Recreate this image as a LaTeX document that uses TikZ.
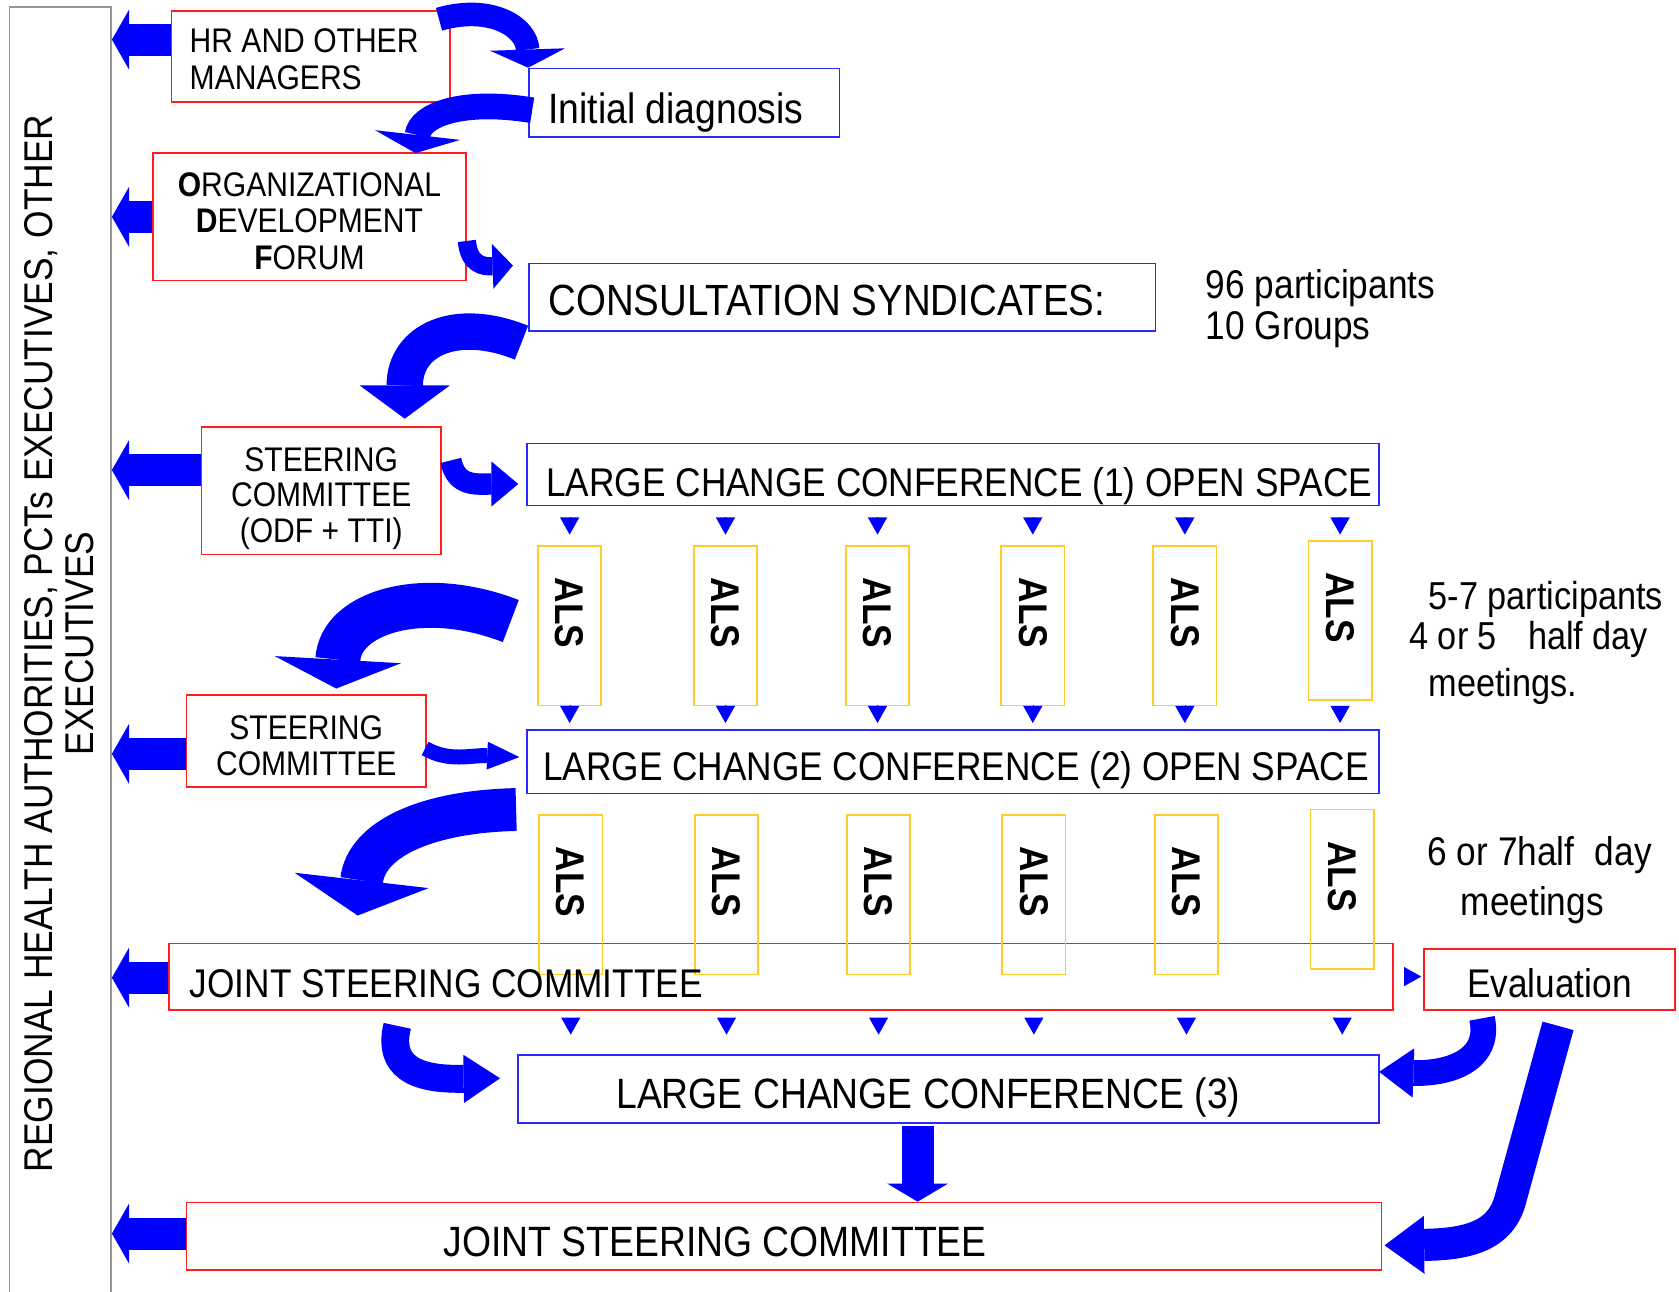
\documentclass[tikz,border=0pt]{standalone}
\usepackage{fontspec}
\setmainfont{Liberation Sans}[FakeStretch=0.88]
\usetikzlibrary{arrows.meta}
\definecolor{boxred}{RGB}{255,30,30}
\definecolor{boxblue}{RGB}{40,40,255}
\definecolor{alsyellow}{RGB}{255,204,40}
\definecolor{arrowblue}{RGB}{0,0,255}
\definecolor{sidegray}{RGB}{150,150,150}
\newcommand{\mysmall}{\fontsize{31.9}{34}\selectfont}
\newcommand{\mymed}{\fontsize{37.4}{38}\selectfont}
\newcommand{\mynote}{\fontsize{36.4}{38}\selectfont}
\newcommand{\mylarge}{\fontsize{39.6}{42}\selectfont}
\newcommand{\mycons}{\fontsize{40.8}{42}\selectfont}
\newcommand{\myside}{\fontsize{37.5}{38}\selectfont}
\begin{document}
\begin{tikzpicture}[x=1pt,y=-1pt,
  rbox/.style={draw=boxred, line width=1.5pt, inner sep=0pt},
  bbox/.style={draw=boxblue, line width=1.5pt, inner sep=0pt},
  ybox/.style={draw=alsyellow, line width=1.5pt, inner sep=0pt, minimum width=59pt, minimum height=149pt},
  txt/.style={inner sep=0pt, text=black},
  alstxt/.style={inner sep=0pt, text=black, rotate=-90, font=\mymed\bfseries},
  sidearrow/.style={draw=arrowblue, line width=30pt, line cap=butt, -{Triangle[width=56pt,length=16pt,line width=0pt]}},
  tri/.style={draw=arrowblue, line width=0.3pt, -{Triangle[width=18pt,length=16pt,line width=0pt]}},
  carrow/.style n args={3}{draw=arrowblue, line width=#1, line cap=butt, -{Triangle[width=#2,length=#3,line width=0pt]}}
]
\useasboundingbox (0,0) rectangle (1568,1206);

% sidebar
\node[draw=sidegray, line width=1.5pt, minimum width=95pt, minimum height=1230pt, anchor=north west, inner sep=0pt] (side) at (8,6) {};
\node[txt, rotate=90, align=center, font=\myside] (sidetxt) at (55,601) {REGIONAL HEALTH AUTHORITIES, PCTs EXECUTIVES, OTHER\\EXECUTIVES};

% red boxes
\node[rbox, minimum width=260pt, minimum height=85pt] (hr) at (290,52.5) {};
\node[rbox, minimum width=292pt, minimum height=119pt] (odf) at (289,202.5) {};
\node[rbox, minimum width=224pt, minimum height=119pt] (sc1) at (300,458.5) {};
\node[rbox, minimum width=224pt, minimum height=86pt] (sc2) at (286,692) {};
\node[rbox, minimum width=1143pt, minimum height=62pt] (jsc1) at (729.5,912) {};
\node[rbox, minimum width=234pt, minimum height=57pt] (eval) at (1447,914.5) {};
\node[rbox, minimum width=1116pt, minimum height=63pt] (jsc2) at (732,1154.5) {};

% blue boxes
\node[bbox, minimum width=290pt, minimum height=64pt] (init) at (639,96) {};
\node[bbox, minimum width=585pt, minimum height=63pt] (cons) at (786.5,277.5) {};
\node[bbox, minimum width=796pt, minimum height=58pt] (lcc1) at (890,443) {};
\node[bbox, minimum width=796pt, minimum height=59pt] (lcc2) at (890,711.5) {};
\node[bbox, minimum width=804pt, minimum height=64pt] (lcc3) at (886,1017) {};

% ALS boxes
\node[ybox] (a1) at (532,584.5) {};
\node[ybox] (a2) at (677.5,584.5) {};
\node[ybox] (a3) at (819.5,584.5) {};
\node[ybox] (a4) at (964.5,584.5) {};
\node[ybox] (a5) at (1106.5,584.5) {};
\node[ybox] (a6) at (1251.5,579.5) {};
\node[ybox] (b1) at (533,835.5) {};
\node[ybox] (b2) at (678.5,835.5) {};
\node[ybox] (b3) at (820.5,835.5) {};
\node[ybox] (b4) at (965.5,835.5) {};
\node[ybox] (b5) at (1108,835.5) {};
\node[ybox] (b6) at (1253.5,830.5) {};
\foreach \n in {a1,a2,a3,a4,a5,a6,b1,b2,b3,b4,b5,b6}{
  \node[alstxt] (t\n) at ([yshift=12pt]\n.center) {ALS};
}

% texts
\node[txt, anchor=base west, font=\mysmall] (hrt1) at (177,49.4) {HR AND OTHER};
\node[txt, anchor=base west, font=\mysmall] (hrt2) at (177,83.4) {MANAGERS};
\node[txt, anchor=base, font=\mysmall] (odft1) at (289,183.4) {\textbf{O}RGANIZATIONAL};
\node[txt, anchor=base, font=\mysmall] (odft2) at (289,217.4) {\textbf{D}EVELOPMENT};
\node[txt, anchor=base, font=\mysmall] (odft3) at (289,251.4) {\textbf{F}ORUM};
\node[txt, anchor=base, font=\mysmall] (sc1t1) at (300,440.4) {STEERING};
\node[txt, anchor=base, font=\mysmall] (sc1t2) at (300,473.4) {COMMITTEE};
\node[txt, anchor=base, font=\mysmall] (sc1t3) at (300,506.4) {(ODF + TTI)};
\node[txt, anchor=base, font=\mysmall] (sc2t1) at (286,690.4) {STEERING};
\node[txt, anchor=base, font=\mysmall] (sc2t2) at (286,724.4) {COMMITTEE};
\node[txt, anchor=base west, font=\mylarge] (initt) at (512,115) {Initial diagnosis};
\node[txt, anchor=base west, font=\mycons] (const) at (512,295) {CONSULTATION SYNDICATES:};
\node[txt, anchor=base west, font=\mymed] (lcc1t) at (510,464) {LARGE CHANGE CONFERENCE (1) OPEN SPACE};
\node[txt, anchor=base west, font=\mymed] (lcc2t) at (507,729) {LARGE CHANGE CONFERENCE (2) OPEN SPACE};
\node[txt, anchor=base, font=\mylarge] (lcc3t) at (867,1035) {LARGE CHANGE CONFERENCE (3)};
\node[txt, anchor=base west, font=\mymed] (jsc1t) at (177,932) {JOINT STEERING COMMITTEE};
\node[txt, anchor=base west, font=\mylarge] (jsc2t) at (414,1173) {JOINT STEERING COMMITTEE};
\node[txt, anchor=base, font=\mymed] (evalt) at (1447,932) {Evaluation};
\node[txt, anchor=base west, font=\mymed] (n1) at (1126,279) {96 participants};
\node[txt, anchor=base west, font=\mymed] (n2) at (1126,317) {10 Groups};
\node[txt, anchor=base west, font=\mynote] (n3) at (1334,569) {5-7 participants};
\node[txt, anchor=base west, font=\mynote] (n4) at (1316,607) {4 or 5\hspace{20pt} half day};
\node[txt, anchor=base west, font=\mynote] (n5) at (1334,650) {meetings.};
\node[txt, anchor=base west, font=\mymed] (n6) at (1333,808) {6 or 7half\hspace{10pt} day};
\node[txt, anchor=base west, font=\mymed] (n7) at (1364,855) {meetings};

% straight arrows to sidebar
\coordinate (hrA) at ([yshift=15.5pt]hr.west);
\coordinate (odfA) at (odf.west);
\coordinate (sc1A) at ([yshift=19.5pt]sc1.west);
\coordinate (sc2A) at ([yshift=-12pt]sc2.west);
\coordinate (jsc1A) at ([yshift=-1pt]jsc1.west);
\coordinate (jsc2A) at ([yshift=2.5pt]jsc2.west);
\foreach \c in {hrA,odfA,sc1A,sc2A,jsc1A,jsc2A}{
  \draw[sidearrow] (\c) -- (\c -| side.east);
}

% small triangles
\foreach \n/\s/\e in {a1/12/10,a2/12/10,a3/12/10,a4/12/10,a5/12/10,a6/12/5}{
  \draw[tri, shorten <=\s pt, shorten >=\e pt] (\n.north |- lcc1.south) -- (\n.north);
}
\foreach \n/\s in {a1/1,a2/1,a3/1,a4/1,a5/1,a6/6}{
  \draw[tri, shorten <=\s pt, shorten >=6pt] (\n.south) -- (\n.south |- lcc2.north);
}
\foreach \n in {b1,b2,b3,b4,b5,b6}{
  \draw[tri, shorten <=7pt, shorten >=18pt] (\n.south |- jsc1.south) -- (\n.south |- lcc3.north);
}
\draw[tri, shorten <=11pt, shorten >=2pt] (jsc1.east) -- (jsc1.east -| eval.west);

% curved block arrows
\coordinate (c1s) at (410,18);
\draw[carrow={22pt}{70pt}{17pt}] (c1s) .. controls (458,4) and (492,25) .. (init.north west);
\coordinate (c2s) at (497,103);
\coordinate (c2e) at (388,143);
\draw[carrow={24pt}{80pt}{17pt}] (c2s) .. controls (430,92) and (392,108) .. (c2e);
\coordinate (c3s) at (436,225);
\coordinate (c3e) at (479,248);
\draw[carrow={17pt}{42pt}{19pt}] (c3s) .. controls (438,248) and (452,249) .. (c3e);
\coordinate (c4s) at (487,320);
\coordinate (c4e) at (378,391);
\draw[carrow={34pt}{84pt}{31pt}] (c4s) .. controls (425,295) and (378,318) .. (c4e);
\coordinate (c5s) at (421,430);
\coordinate (c5e) at (484,452);
\draw[carrow={20pt}{42pt}{25pt}] (c5s) .. controls (426,455) and (445,452) .. (c5e);
\coordinate (c6s) at (477,580);
\coordinate (c6e) at (314,643);
\draw[carrow={42pt}{118pt}{27pt}] (c6s) .. controls (395,548) and (318,572) .. (c6e);
\coordinate (c7s) at (397,699);
\coordinate (c7e) at (485,707);
\draw[carrow={14pt}{26pt}{30pt}] (c7s) .. controls (420,712) and (440,705) .. (c7e);
\coordinate (c8s) at (482,756);
\coordinate (c8e) at (334,855);
\draw[carrow={40pt}{126pt}{33pt}] (c8s) .. controls (395,758) and (342,785) .. (c8e);
\coordinate (c9s) at (371,958);
\coordinate (c9e) at (467,1007);
\draw[carrow={26pt}{45pt}{34pt}] (c9s) .. controls (360,1003) and (400,1008) .. (c9e);
\coordinate (c10s) at (1384,951);
\coordinate (c10e) at (1288,1001);
\draw[carrow={24pt}{46pt}{32pt}] (c10s) .. controls (1393,992) and (1350,1003) .. (c10e);
\coordinate (c11s) at (1455,958);
\coordinate (c11m) at (1410,1122);
\coordinate (c11e) at (1293,1163);
\draw[carrow={30pt}{54pt}{37pt}] (c11s) -- (c11m) .. controls (1401,1152) and (1375,1162) .. (c11e);
\coordinate (c12s) at (857,1052);
\draw[carrow={30pt}{57pt}{17pt}] (c12s) -- (c12s |- jsc2.north);
\end{tikzpicture}
\end{document}
